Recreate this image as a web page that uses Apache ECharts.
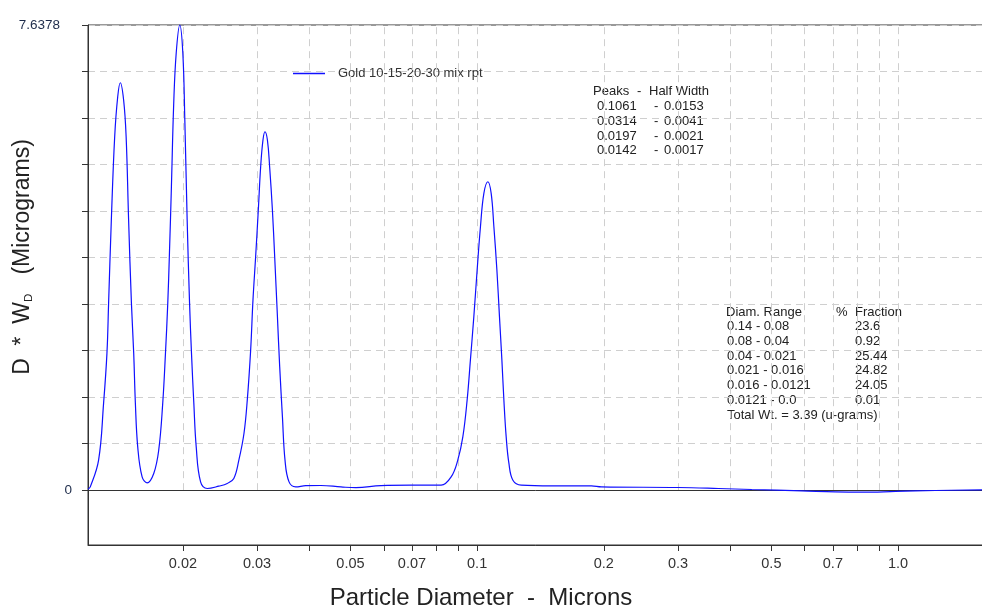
<!DOCTYPE html>
<html>
<head>
<meta charset="utf-8">
<script src="https://cdn.jsdelivr.net/npm/echarts@6/dist/echarts.min.js"></script>
<style>
  html, body { margin: 0; padding: 0; background: #fff; }
  #chart { width: 982px; height: 606px; }
</style>
</head>
<body>
<div id="chart"></div>
<script>
// particle diameter (microns) and D*Wd (micrograms)
var diameter = [0.0119, 0.01205, 0.01261, 0.01296, 0.0132, 0.01332, 0.01352, 0.01377, 0.014, 0.0142,
    0.01446, 0.01466, 0.01486, 0.01509, 0.01528, 0.01542, 0.01562, 0.016, 0.01644, 0.01705,
    0.01752, 0.01791, 0.01818, 0.01841, 0.01858, 0.01878, 0.01902, 0.01928, 0.01966, 0.01999,
    0.02021, 0.02047, 0.02074, 0.02096, 0.02123, 0.02151, 0.02203, 0.02285, 0.02434, 0.02549,
    0.02642, 0.02716, 0.02793, 0.02844, 0.02897, 0.02934, 0.02977, 0.03021, 0.0306, 0.03099,
    0.03133, 0.03175, 0.03214, 0.03263, 0.03304, 0.03354, 0.03396, 0.03447, 0.03496, 0.03574,
    0.03707, 0.03916, 0.04253, 0.04746, 0.05152, 0.05907, 0.06966, 0.07989, 0.08211, 0.08674,
    0.08995, 0.09247, 0.09467, 0.09638, 0.0982, 0.1, 0.10183, 0.10375, 0.10605, 0.10798,
    0.10959, 0.11141, 0.113, 0.1145, 0.11576, 0.11722, 0.11899, 0.12162, 0.12728, 0.15007,
    0.18684, 0.19737, 0.30053, 0.37418, 0.4492, 0.5907, 0.7091, 0.8211, 0.9854, 1.2268, 1.6];
var dwd = [0.016, 0.054, 0.493, 1.429, 2.25, 3.071, 4.435, 5.803, 6.46, 6.69,
    6.406, 5.803, 4.435, 3.071, 2.25, 1.429, 0.711, 0.218, 0.12, 0.274,
    0.657, 1.429, 2.25, 3.071, 3.893, 4.982, 6.356, 7.178, 7.6378, 7.178,
    6.077, 4.435, 3.071, 2.25, 1.429, 0.711, 0.136, 0.028, 0.066, 0.11,
    0.192, 0.493, 0.931, 1.478, 2.3, 3.121, 3.832, 4.599, 5.31, 5.749,
    5.885, 5.749, 5.31, 4.599, 3.832, 2.846, 2.025, 1.204, 0.493, 0.136,
    0.054, 0.074, 0.077, 0.054, 0.041, 0.074, 0.082, 0.082, 0.082, 0.218,
    0.493, 0.875, 1.478, 2.135, 2.846, 3.614, 4.325, 4.873, 5.064, 4.873,
    4.325, 3.614, 2.846, 2.135, 1.478, 0.875, 0.439, 0.164, 0.082, 0.071,
    0.071, 0.054, 0.044, 0.028, 0.011, -0.011, -0.028, -0.033, -0.021, -0.005, 0.005];

var seriesName = 'Gold 10-15-20-30 mix rpt';
var yMax = 7.6378;
var yMin = -0.9;

var xTicks = [0.02, 0.03, 0.04, 0.05, 0.06, 0.07, 0.08, 0.09, 0.1, 0.2, 0.3, 0.4, 0.5, 0.6, 0.7, 0.8, 0.9, 1.0];
var xLabels = [0.02, 0.03, 0.05, 0.07, 0.1, 0.2, 0.3, 0.5, 0.7, 1.0];
var yTicks = [0, 0.76378, 1.52756, 2.29134, 3.05512, 3.8189, 4.58268, 5.34646, 6.11024, 6.87402, 7.6378];
var yLabels = [0, 7.6378];

var peaks = ['0.1061', '0.0314', '0.0197', '0.0142'];
var halfWidths = ['0.0153', '0.0041', '0.0021', '0.0017'];
var diamRanges = ['0.14 - 0.08', '0.08 - 0.04', '0.04 - 0.021', '0.021 - 0.016', '0.016 - 0.0121', '0.0121 - 0.0'];
var fractions = ['23.6', '0.92', '25.44', '24.82', '24.05', '0.01'];
var totalWt = 'Total Wt. = 3.39 (u-grams)';

var FONT = '"Liberation Sans", Arial, sans-serif';

function txt(x, y, s) {
    return {
        type: 'text', x: x, y: y, silent: true,
        style: { text: s, fontFamily: FONT, fontSize: 13, fill: '#222', verticalAlign: 'middle' }
    };
}

function buildTables() {
    var els = [];
    els.push(txt(593, 91.5, 'Peaks'));
    els.push(txt(637, 91.5, '-'));
    els.push(txt(649, 91.5, 'Half Width'));
    for (var i = 0; i < peaks.length; i++) {
        var y = 106.5 + i * 14.8;
        els.push(txt(597, y, peaks[i]));
        els.push(txt(654, y, '-'));
        els.push(txt(664, y, halfWidths[i]));
    }
    els.push(txt(726, 312, 'Diam. Range'));
    els.push(txt(836, 312, '%'));
    els.push(txt(855, 312, 'Fraction'));
    for (var j = 0; j < diamRanges.length; j++) {
        var yy = 326.8 + j * 14.7;
        els.push(txt(727, yy, diamRanges[j]));
        els.push(txt(855, yy, fractions[j]));
    }
    els.push(txt(727, 415.5, totalWt));
    return els;
}

var chart = echarts.init(document.getElementById('chart'));

var gridLines = xTicks.map(function (v) {
    return [{ coord: [v, 0] }, { coord: [v, yMax] }];
});

var option = {
    animation: false,
    backgroundColor: '#fff',
    grid: {
        left: 88, top: 25, right: -2, bottom: 61,
        containLabel: false,
        outerBoundsMode: 'none',
        show: true, borderColor: '#333', borderWidth: 1
    },
    legend: {
        data: [{ name: seriesName, icon: 'rect' }],
        left: 293, top: 67, padding: 0,
        itemWidth: 32, itemHeight: 1.5, itemGap: 5,
        textStyle: { fontFamily: FONT, fontSize: 13, color: '#333', padding: [2, 0, 0, 8] }
    },
    xAxis: {
        type: 'log',
        min: 0.0119, max: 1.6,
        name: 'Particle Diameter  -  Microns',
        nameLocation: 'middle',
        nameGap: 41,
        nameMoveOverlap: false,
        nameTextStyle: { fontFamily: FONT, fontSize: 24, color: '#222', padding: [0, 110, 0, 0] },
        axisLine: { onZero: false, lineStyle: { color: '#333', width: 1 } },
        axisTick: { customValues: xTicks, length: 6, lineStyle: { color: '#333' } },
        axisLabel: {
            customValues: xLabels,
            margin: 11,
            fontFamily: FONT, fontSize: 14.5, color: '#333',
            formatter: function (v) { return v === 1 ? '1.0' : String(v); }
        },
        splitLine: { show: false },
        minorTick: { show: false }
    },
    yAxis: {
        type: 'value',
        min: yMin, max: yMax,
        name: '{a|D  *  W}{b|D}{a|   (Micrograms)}',
        nameLocation: 'middle',
        nameRotate: 90,
        nameGap: 53,
        nameMoveOverlap: false,
        nameTextStyle: {
            padding: [0, 0, 0, 56],
            rich: {
                a: { fontFamily: FONT, fontSize: 23, color: '#222' },
                b: { fontFamily: FONT, fontSize: 11.5, color: '#222', verticalAlign: 'bottom', padding: [12, 0, 0, 0] }
            }
        },
        axisLine: { onZero: false, lineStyle: { color: '#333', width: 1 } },
        axisTick: { customValues: yTicks, length: 6, lineStyle: { color: '#333' } },
        axisLabel: {
            customValues: yLabels,
            fontFamily: FONT, fontSize: 13.5, color: '#1d2b4a',
            formatter: function (v) { return v === 0 ? '{z|0}' : '{t|' + v + '}'; },
            rich: {
                z: { fontFamily: FONT, fontSize: 13.5, color: '#1d2b4a', padding: [0, 8, 0, 0] },
                t: { fontFamily: FONT, fontSize: 13.5, color: '#1d2b4a', padding: [0, 20, 0, 0] }
            }
        },
        splitLine: { show: true, lineStyle: { color: '#cfcfcf', type: [7, 5], width: 1 } }
    },
    graphic: buildTables(),
    series: [
        {
            name: 'grid',
            type: 'line',
            data: [],
            z: 1,
            silent: true,
            markLine: {
                silent: true,
                symbol: 'none',
                label: { show: false },
                animation: false,
                lineStyle: { color: '#cfcfcf', type: [7, 5], width: 1 },
                data: gridLines
            }
        },
        {
            name: 'zero',
            type: 'line',
            data: [],
            z: 2,
            silent: true,
            markLine: {
                silent: true,
                symbol: 'none',
                label: { show: false },
                animation: false,
                lineStyle: { color: '#333', type: 'solid', width: 1 },
                data: [{ yAxis: 0 }]
            }
        },
        {
            name: seriesName,
            type: 'line',
            z: 5,
            data: diameter.map(function (d, i) { return [d, dwd[i]]; }),
            showSymbol: false,
            symbol: 'none',
            smooth: 0.4,
            clip: false,
            lineStyle: { color: '#1010ff', width: 1.2 },
            itemStyle: { color: '#1010ff' }
        }
    ]
};

chart.setOption(option);
window.onresize = function () { chart.resize(); };
</script>
</body>
</html>
